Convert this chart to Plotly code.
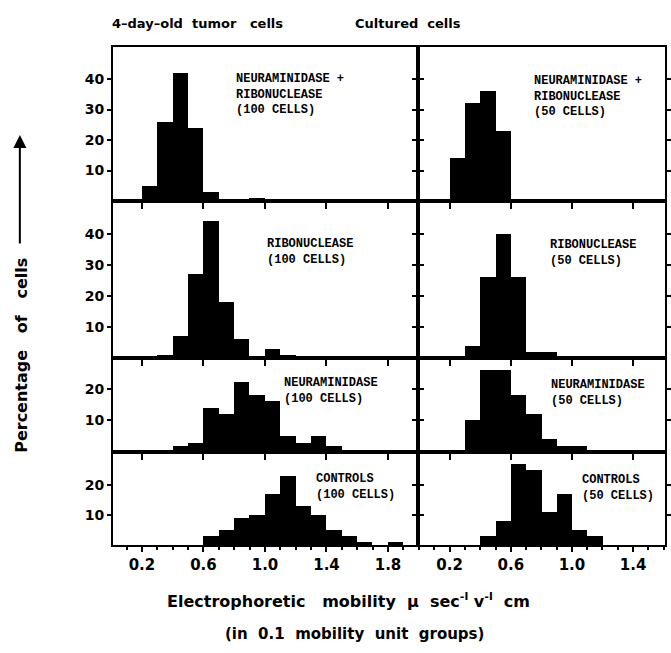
import plotly.graph_objects as go

# ---------------- data (percentage of cells per 0.1 mobility-unit group) ----------------
# lower edge of each 0.1 group, and percentage of cells in it
tumor_nr_edges = [0.2, 0.3, 0.4, 0.5, 0.6, 0.7, 0.8, 0.9]
tumor_nr_pct = [5, 26, 42, 24, 3, 0, 0, 1]
cult_nr_edges = [0.2, 0.3, 0.4, 0.5]
cult_nr_pct = [14, 32, 36, 23]

tumor_rn_edges = [0.3, 0.4, 0.5, 0.6, 0.7, 0.8, 0.9, 1.0, 1.1]
tumor_rn_pct = [1, 7, 27, 44, 18, 6, 0, 3, 1]
cult_rn_edges = [0.3, 0.4, 0.5, 0.6, 0.7, 0.8]
cult_rn_pct = [4, 26, 40, 26, 2, 2]

tumor_n_edges = [0.4, 0.5, 0.6, 0.7, 0.8, 0.9, 1.0, 1.1, 1.2, 1.3, 1.4]
tumor_n_pct = [2, 3, 14, 12, 22, 18, 16, 5, 3, 5, 2]
cult_n_edges = [0.3, 0.4, 0.5, 0.6, 0.7, 0.8, 0.9, 1.0]
cult_n_pct = [10, 26, 26, 18, 12, 4, 2, 2]

tumor_c_edges = [0.6, 0.7, 0.8, 0.9, 1.0, 1.1, 1.2, 1.3, 1.4, 1.5, 1.6, 1.7, 1.8]
tumor_c_pct = [3, 5, 9, 10, 17, 23, 13, 10, 5, 3, 1, 0, 1]
cult_c_edges = [0.4, 0.5, 0.6, 0.7, 0.8, 0.9, 1.0, 1.1]
cult_c_pct = [3, 8, 27, 25, 11, 17, 5, 3]

bin_width = 0.1
x_tick_vals = [0.2, 0.6, 1.0, 1.4, 1.8]
x_tick_text = ["0.2", "0.6", "1.0", "1.4", "1.8"]
y_ticks_tall = [10, 20, 30, 40]
y_ticks_short = [10, 20]

col_titles = ["4\u2013day\u2013old\u00a0 tumor\u00a0\u00a0 cells", "Cultured\u00a0 cells"]
panel_labels = [
    ["NEURAMINIDASE +", "RIBONUCLEASE", "(100 CELLS)"],
    ["NEURAMINIDASE +", "RIBONUCLEASE", "(50 CELLS)"],
    ["RIBONUCLEASE", "(100 CELLS)"],
    ["RIBONUCLEASE", "(50 CELLS)"],
    ["NEURAMINIDASE", "(100 CELLS)"],
    ["NEURAMINIDASE", "(50 CELLS)"],
    ["CONTROLS", "(100 CELLS)"],
    ["CONTROLS", "(50 CELLS)"],
]
x_title_1 = ("Electrophoretic\u00a0\u00a0 mobility\u00a0 \u03bc\u00a0 "
             "sec<sup>-l</sup>\u00a0v<sup>-l</sup>\u00a0 cm")
x_title_2 = "(in\u00a0 0.1\u00a0 mobility\u00a0 unit\u00a0 groups)"
y_title = "Percentage\u00a0\u00a0 of\u00a0\u00a0 cells"

panels = [
    (tumor_nr_edges, tumor_nr_pct), (cult_nr_edges, cult_nr_pct),
    (tumor_rn_edges, tumor_rn_pct), (cult_rn_edges, cult_rn_pct),
    (tumor_n_edges, tumor_n_pct), (cult_n_edges, cult_n_pct),
    (tumor_c_edges, tumor_c_pct), (cult_c_edges, cult_c_pct),
]

# ---------------- layout geometry ----------------
W, H = 671, 653
def fx(px):
    return px / W
def fy(py):
    return 1 - py / H

col_dom = [[fx(114), fx(421)], [fx(421), fx(670)]]
row_px = [(47, 201), (201, 358), (358, 452), (452, 545)]
row_dom = [[fy(b), fy(t)] for (t, b) in row_px]
x_ranges = [[0.013, 1.994], [-0.008, 1.609]]
y_ranges = [[0, 50.5], [0, 50.6], [0, 29.7], [0, 31]]

# left edge x, and vertical centre of the label block (px)
label_pos = [(236, 95), (536, 96), (267, 252), (552, 253),
             (284, 391), (553, 393), (316, 487), (584, 488)]

TICKFONT = dict(family="DejaVu Sans", size=15, color="black", weight="bold")
YTICKFONT = dict(family="DejaVu Sans", size=14, color="black", weight="bold")
COLFONT = dict(family="DejaVu Sans", size=13, color="black", weight="bold")
TITLEFONT1 = dict(family="DejaVu Sans", size=16, color="black", weight="bold")
TITLEFONT2 = dict(family="DejaVu Sans", size=15, color="black", weight="bold")
YTITLEFONT = dict(family="DejaVu Sans", size=16, color="black", weight="bold")
LABELFONT = dict(family="Liberation Mono", size=12, color="black", weight="bold")

fig = go.Figure()
layout = dict(
    width=W, height=H, margin=dict(l=0, r=0, t=0, b=0),
    paper_bgcolor="white", plot_bgcolor="white", showlegend=False,
    bargap=0, annotations=[],
)

for k, (edges, pct) in enumerate(panels):
    r, c = divmod(k, 2)
    n = k + 1
    xa = "x" if n == 1 else f"x{n}"
    ya = "y" if n == 1 else f"y{n}"
    fig.add_trace(go.Bar(
        x=[e + bin_width / 2 for e in edges], y=pct, width=bin_width,
        marker=dict(color="black", line=dict(width=0)),
        xaxis=xa, yaxis=ya, hoverinfo="skip",
    ))
    xkey = "xaxis" if n == 1 else f"xaxis{n}"
    ykey = "yaxis" if n == 1 else f"yaxis{n}"
    xdict = dict(domain=col_dom[c], anchor=ya, range=x_ranges[c],
                 showline=True, linecolor="black", linewidth=2, mirror=True,
                 showgrid=False, zeroline=False, fixedrange=True)
    if r == 0:
        xdict.update(ticks="", showticklabels=False, side="bottom")
    elif r in (1, 2):
        xdict.update(side="top", ticks="inside", ticklen=8, tickwidth=2,
                     tickcolor="black", tickmode="array", tickvals=x_tick_vals,
                     showticklabels=False)
    else:
        xdict.update(side="bottom", ticks="outside", ticklen=5, tickwidth=2,
                     tickcolor="black", tickmode="array", tickvals=x_tick_vals,
                     ticktext=x_tick_text, tickfont=TICKFONT,
                     minor=dict(ticks="outside", ticklen=3, tickwidth=1.5,
                                tickcolor="black", tickmode="linear",
                                tick0=0, dtick=0.1))
    layout[xkey] = xdict
    yt = y_ticks_tall if r < 2 else y_ticks_short
    layout[ykey] = dict(domain=row_dom[r], anchor=xa, range=y_ranges[r],
                        showline=True, linecolor="black", linewidth=2,
                        mirror="ticks", ticks="outside", ticklen=4, tickwidth=2,
                        tickcolor="black", tickmode="array", tickvals=yt,
                        showticklabels=(c == 0), tickfont=YTICKFONT,
                        showgrid=False, zeroline=False, fixedrange=True)
    # panel label block
    lx, ly = label_pos[k]
    layout["annotations"].append(dict(
        text="<br>".join(panel_labels[k]), xref="paper", yref="paper",
        x=fx(lx), y=fy(ly), xanchor="left", yanchor="middle", align="left",
        showarrow=False, font=LABELFONT))

# extra top-tick axes for bottom row
for c, base in enumerate([7, 8]):
    n = 9 + c
    fig.add_trace(go.Scatter(x=[], y=[], xaxis=f"x{n}", yaxis=f"y{base}",
                             hoverinfo="skip"))
    layout[f"xaxis{n}"] = dict(overlaying=f"x{base}", anchor=f"y{base}", side="top",
                               range=x_ranges[c], ticks="inside", ticklen=8,
                               tickwidth=2, tickcolor="black", tickmode="array",
                               tickvals=x_tick_vals, showticklabels=False,
                               showline=False, showgrid=False, zeroline=False,
                               fixedrange=True)

# column titles
for c, (cx, t) in enumerate(zip([199, 411], col_titles)):
    layout["annotations"].append(dict(text=t, xref="paper", yref="paper",
                                      x=fx(cx), y=fy(24), xanchor="center",
                                      yanchor="middle", showarrow=False,
                                      font=COLFONT))
# x-axis titles
layout["annotations"].append(dict(text=x_title_1, xref="paper", yref="paper",
                                  x=fx(351), y=fy(600), xanchor="center",
                                  yanchor="middle", showarrow=False, font=TITLEFONT1))
layout["annotations"].append(dict(text=x_title_2, xref="paper", yref="paper",
                                  x=fx(357), y=fy(634), xanchor="center",
                                  yanchor="middle", showarrow=False, font=TITLEFONT2))
# y-axis title and arrow
layout["annotations"].append(dict(text=y_title, xref="paper", yref="paper",
                                  x=fx(21), y=fy(355), xanchor="center",
                                  yanchor="middle", textangle=-90, showarrow=False,
                                  font=YTITLEFONT))
layout["annotations"].append(dict(text="", xref="paper", yref="paper",
                                  x=fx(20), y=fy(135), ax=0, ay=110,
                                  showarrow=True, arrowhead=2, arrowsize=1.3,
                                  arrowwidth=2, arrowcolor="black"))

fig.update_layout(**layout)
fig.write_html("out.html")
